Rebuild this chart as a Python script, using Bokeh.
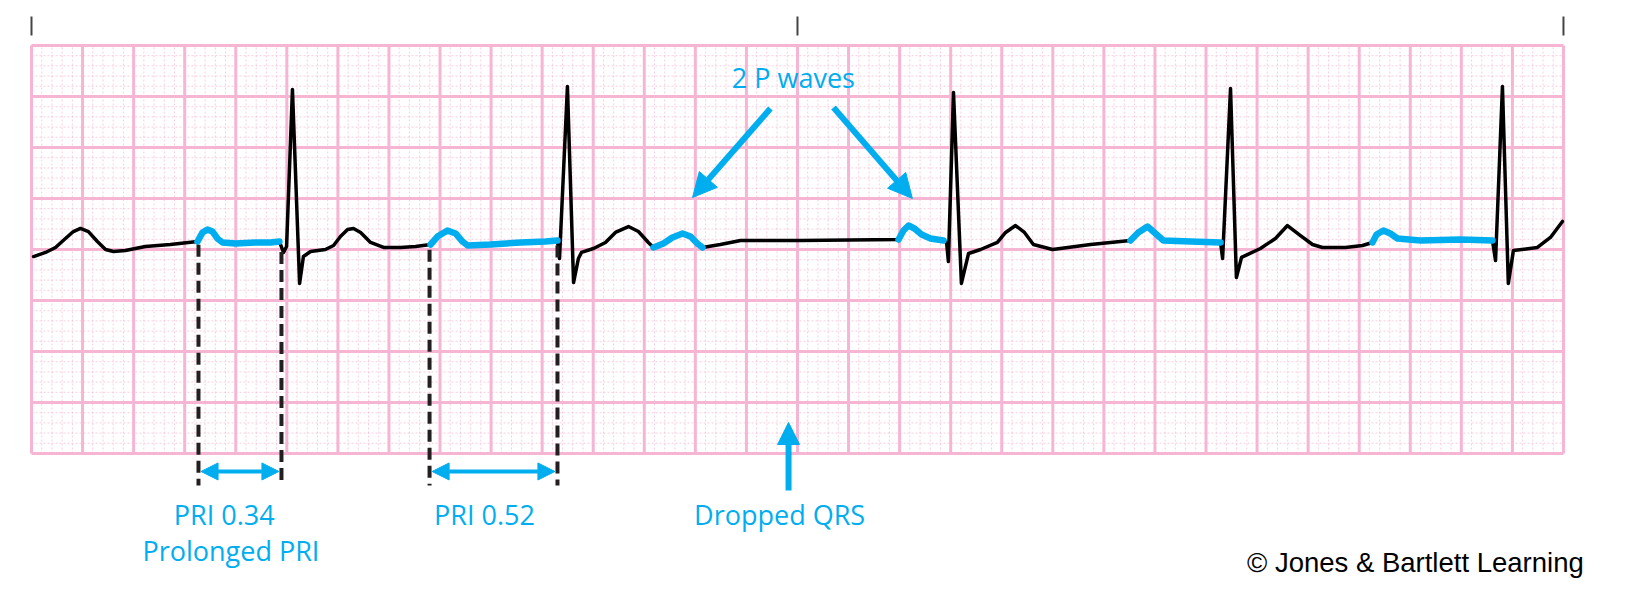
import numpy as np
from bokeh.plotting import figure
from bokeh.models import Range1d, Arrow, NormalHead, Label
from bokeh.embed import file_html
from bokeh.resources import INLINE

# ---------------- data (read from the strip: 25 mm/s, 10 mm/mV) ----------------
# ECG trace: time in seconds, amplitude in mV (0 = 4th major grid line from bottom)
ecg_t = [0.008, 0.055, 0.094, 0.133, 0.164, 0.192, 0.223, 0.258, 0.290, 0.321, 0.368, 0.446, 0.544,
         0.650, 0.670, 0.689, 0.709, 0.728, 0.748, 0.799, 0.877, 0.936, 0.971,
         0.987, 0.999, 1.022, 1.050, 1.065, 1.093, 1.151, 1.183,
         1.210, 1.238, 1.261, 1.289, 1.328, 1.379, 1.445, 1.504,
         1.563, 1.590, 1.629, 1.661, 1.688, 1.708, 1.798, 1.915, 2.013, 2.060,
         2.068, 2.099, 2.123, 2.142, 2.154, 2.201, 2.248,
         2.287, 2.338, 2.377, 2.416,
         2.436, 2.475, 2.510, 2.550, 2.581, 2.608, 2.628,
         2.698, 2.777, 3.012,
         3.396, 3.415, 3.435, 3.458, 3.486, 3.521, 3.572,
         3.584, 3.591, 3.611, 3.642, 3.670, 3.717, 3.783,
         3.815, 3.854, 3.889, 3.924, 3.999, 4.148,
         4.304, 4.335, 4.371, 4.402, 4.433, 4.539, 4.657,
         4.665, 4.696, 4.719, 4.739, 4.813,
         4.872, 4.919, 4.970, 5.017, 5.056, 5.146, 5.213,
         5.252, 5.268, 5.295, 5.322, 5.350, 5.440, 5.597, 5.722,
         5.734, 5.761, 5.784, 5.804, 5.898, 5.949, 5.996]
ecg_mv = [-0.069, -0.029, 0.020, 0.108, 0.176, 0.206, 0.176, 0.078, 0.000, -0.020, -0.010, 0.029, 0.049,
          0.078, 0.167, 0.196, 0.176, 0.108, 0.069, 0.059, 0.069, 0.069, 0.078,
          -0.029, 0.029, 1.569, -0.333, -0.069, -0.020, 0.000, 0.039,
          0.127, 0.196, 0.206, 0.167, 0.069, 0.020, 0.020, 0.029,
          0.049, 0.127, 0.186, 0.157, 0.078, 0.039, 0.049, 0.069, 0.078, 0.088,
          -0.088, 1.598, -0.324, -0.088, -0.029, 0.010, 0.069,
          0.167, 0.225, 0.176, 0.069,
          0.020, 0.059, 0.118, 0.157, 0.127, 0.059, 0.020,
          0.049, 0.088, 0.088,
          0.098, 0.186, 0.235, 0.206, 0.147, 0.108, 0.088,
          0.069, -0.118, 1.539, -0.333, -0.039, 0.000, 0.069,
          0.167, 0.235, 0.167, 0.049, 0.000, 0.049,
          0.088, 0.167, 0.225, 0.157, 0.088, 0.078, 0.069,
          -0.088, 1.578, -0.275, -0.078, 0.010,
          0.108, 0.235, 0.137, 0.049, 0.020, 0.020, 0.039,
          0.069, 0.147, 0.186, 0.157, 0.108, 0.088, 0.098, 0.088,
          -0.108, 1.598, -0.333, -0.010, 0.020, 0.118, 0.275]

# P-wave to QRS windows highlighted in blue (s)
p_on = [0.650, 1.563, 2.436, 3.396, 4.304, 5.252]
p_off = [0.971, 2.060, 2.628, 3.572, 4.657, 5.722]

# measured PR intervals (s)
pri_start = [0.654, 1.559]
pri_end = [0.979, 2.060]
pri_labels = ["PRI 0.34", "PRI 0.52"]

BLUE = "#00AEEF"
DARK = "#231F20"
PINK = "#F6B5D2"
PINK_MINOR = "#F2A6C7"

p = figure(width=1616, height=590, x_range=Range1d(-0.1214, 6.2077), y_range=Range1d(-3.343, 2.441),
           output_backend="svg", toolbar_location=None, min_border=0)
p.axis.visible = False
p.grid.visible = False
p.outline_line_color = None
p.background_fill_color = "white"
p.border_fill_color = "white"

# ---------------- ECG paper ----------------
T0, T1, V0, V1 = 0.0, 6.0, -2.0, 2.0
minor_t = [round(k * 0.04, 4) for k in range(151) if k % 5 != 0]
minor_v = [round(-2.0 + k * 0.1, 4) for k in range(41) if k % 5 != 0]
p.segment(x0=minor_t, y0=V0, x1=minor_t, y1=V1, line_color=PINK_MINOR, line_width=1,
          line_dash="2 2", line_alpha=0.55)
p.segment(x0=T0, y0=minor_v, x1=T1, y1=minor_v, line_color=PINK_MINOR, line_width=1,
          line_dash="2 2", line_alpha=0.55)
major_t = [round(k * 0.2, 4) for k in range(31)]
major_v = [round(-2.0 + k * 0.5, 4) for k in range(9)]
p.segment(x0=major_t, y0=V0, x1=major_t, y1=V1, line_color=PINK, line_width=3)
p.segment(x0=T0, y0=major_v, x1=T1, y1=major_v, line_color=PINK, line_width=3)

# 3-second marks above the strip
marks = [0.0, 3.0, 6.0]
p.segment(x0=marks, y0=2.098, x1=marks, y1=2.284, line_color="#444444", line_width=2)

# ---------------- trace ----------------
p.line(ecg_t, ecg_mv, line_color="black", line_width=3.5, line_join="round", line_cap="round")
t_arr = np.array(ecg_t)
v_arr = np.array(ecg_mv)
for a, b in zip(p_on, p_off):
    m = (t_arr >= a - 1e-6) & (t_arr <= b + 1e-6)
    p.line(t_arr[m], v_arr[m], line_color=BLUE, line_width=6.5, line_join="round", line_cap="round")

# ---------------- PR interval markers ----------------
label_x = [0.755, 1.774]
for a, b, lab, lx in zip(pri_start, pri_end, pri_labels, label_x):
    for x in (a, b):
        y0 = float(np.interp(x, ecg_t, ecg_mv)) - 0.05
        p.line([x, x], [y0, -2.314], line_color=DARK, line_width=4, line_dash="12 6")
    p.add_layout(Arrow(start=NormalHead(size=17, fill_color=BLUE, line_color=BLUE),
                       end=NormalHead(size=17, fill_color=BLUE, line_color=BLUE),
                       x_start=a + 0.01, y_start=-2.176, x_end=b - 0.01, y_end=-2.176,
                       line_color=BLUE, line_width=4))
    p.add_layout(Label(x=lx, y=-2.595, text=lab, text_font="Open Sans", text_font_size="27px",
                       text_color=BLUE, text_align="center", text_baseline="alphabetic"))

p.add_layout(Label(x=0.781, y=-2.948, text="Prolonged PRI", text_font="Open Sans", text_font_size="27px",
                   text_color=BLUE, text_align="center", text_baseline="alphabetic"))

# ---------------- 2 P waves ----------------
p.add_layout(Label(x=2.984, y=1.688, text="2 P waves", text_font="Open Sans", text_font_size="27px",
                   text_color=BLUE, text_align="center", text_baseline="alphabetic"))
for xs, ys, xe, ye in [(2.894, 1.382, 2.589, 0.510), (3.141, 1.392, 3.450, 0.500)]:
    p.add_layout(Arrow(end=NormalHead(size=24, fill_color=BLUE, line_color=BLUE),
                       x_start=xs, y_start=ys, x_end=xe, y_end=ye, line_color=BLUE, line_width=6))

# ---------------- Dropped QRS ----------------
p.add_layout(Arrow(end=NormalHead(size=22, fill_color=BLUE, line_color=BLUE),
                   x_start=2.965, y_start=-2.363, x_end=2.965, y_end=-1.696, line_color=BLUE, line_width=6))
p.add_layout(Label(x=2.930, y=-2.595, text="Dropped QRS", text_font="Open Sans", text_font_size="27px",
                   text_color=BLUE, text_align="center", text_baseline="alphabetic"))

# ---------------- credit ----------------
p.add_layout(Label(x=5.420, y=-3.067, text="\u00a9 Jones & Bartlett Learning", text_font="Liberation Sans",
                   text_font_size="27.5px", text_color="black", text_align="center", text_baseline="alphabetic"))

open("out.html", "w").write(file_html(p, INLINE))
